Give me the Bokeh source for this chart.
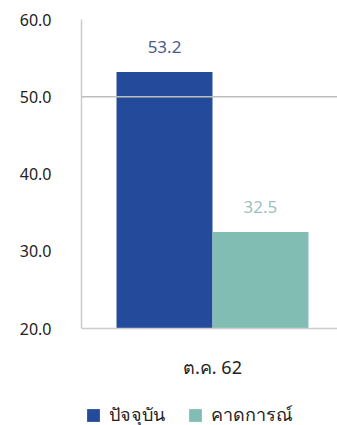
from bokeh.plotting import figure
from bokeh.models import (ColumnDataSource, Range1d, FixedTicker, Span, Legend, LegendItem,
                          NumeralTickFormatter)
from bokeh.transform import dodge
from bokeh.core.properties import value
from bokeh.embed import file_html
from bokeh.resources import INLINE

categories = ["ต.ค. 62"]
series_names = ["ปัจจุบัน", "คาดการณ์"]
current_vals = [53.2]
forecast_vals = [32.5]
y_ticks = [20, 30, 40, 50, 60]

FONT = "Noto Sans"
BLUE = "#234a9b"
TEAL = "#82bdb4"

y_floor = y_ticks[0]
y_top = y_ticks[-1]
px_per_unit = 309 / (y_top - y_floor)
frame_h = 406

src = ColumnDataSource(dict(
    x=list(range(len(categories))),
    cat=categories,
    floor=[y_floor] * len(categories),
    cur=current_vals,
    fc=forecast_vals,
    cur_lbl=[f"{v:.1f}" for v in current_vals],
    fc_lbl=[f"{v:.1f}" for v in forecast_vals],
))

p = figure(frame_width=256, frame_height=frame_h, output_backend="svg", toolbar_location=None,
           x_range=Range1d(-0.505, 0.482),
           y_range=Range1d(y_top - frame_h / px_per_unit, y_top),
           x_axis_location=None,
           min_border_left=81, min_border_right=0, min_border_top=19, min_border_bottom=0)
p.outline_line_color = None
p.xgrid.visible = False
p.ygrid.visible = False

bw = 0.37
r1 = p.vbar(x=dodge("x", -bw / 2, range=p.x_range), top="cur", bottom=y_floor, width=bw,
            source=src, fill_color=BLUE, line_color=None)
r2 = p.vbar(x=dodge("x", bw / 2, range=p.x_range), top="fc", bottom=y_floor, width=bw,
            source=src, fill_color=TEAL, line_color=None)

p.add_layout(Span(location=50, dimension="width", line_color="#bdbdbd", line_width=1.5))
p.add_layout(Span(location=y_floor, dimension="width", line_color="#cccccc", line_width=1.5))

p.text(x=dodge("x", -bw / 2, range=p.x_range), y="cur", text="cur_lbl", source=src,
       text_align="center", text_baseline="middle", y_offset=-25,
       text_font=value(FONT), text_font_size="17px", text_color="#4a5b8c")
p.text(x=dodge("x", bw / 2, range=p.x_range), y="fc", text="fc_lbl", source=src,
       text_align="center", text_baseline="middle", y_offset=-25,
       text_font=value(FONT), text_font_size="17px", text_color="#9fbfbf")

# category label (acts as the x-axis tick label)
p.text(x="x", y="floor", text="cat", source=src,
       text_align="center", text_baseline="middle", y_offset=38,
       text_font=value(FONT), text_font_size="18px", text_color="#222222")

ya = p.yaxis[0]
ya.ticker = FixedTicker(ticks=y_ticks)
ya.bounds = (y_floor, y_top)
ya.formatter = NumeralTickFormatter(format="0.0")
ya.major_tick_line_color = None
ya.minor_tick_line_color = None
ya.axis_line_color = "#cccccc"
ya.axis_line_width = 1.5
ya.major_label_text_font = FONT
ya.major_label_text_font_size = "16px"
ya.major_label_text_color = "#222222"
ya.major_label_standoff = 24

legend = Legend(items=[LegendItem(label=series_names[0], renderers=[r1]),
                       LegendItem(label=series_names[1], renderers=[r2])],
                orientation="horizontal", location=(4, -4),
                label_text_font=FONT, label_text_font_size="18px", label_text_color="#222222",
                glyph_width=16, glyph_height=16, label_standoff=8, spacing=22,
                border_line_color=None, background_fill_alpha=0, padding=0, margin=0)
p.add_layout(legend)

open("out.html", "w").write(file_html(p, INLINE))
